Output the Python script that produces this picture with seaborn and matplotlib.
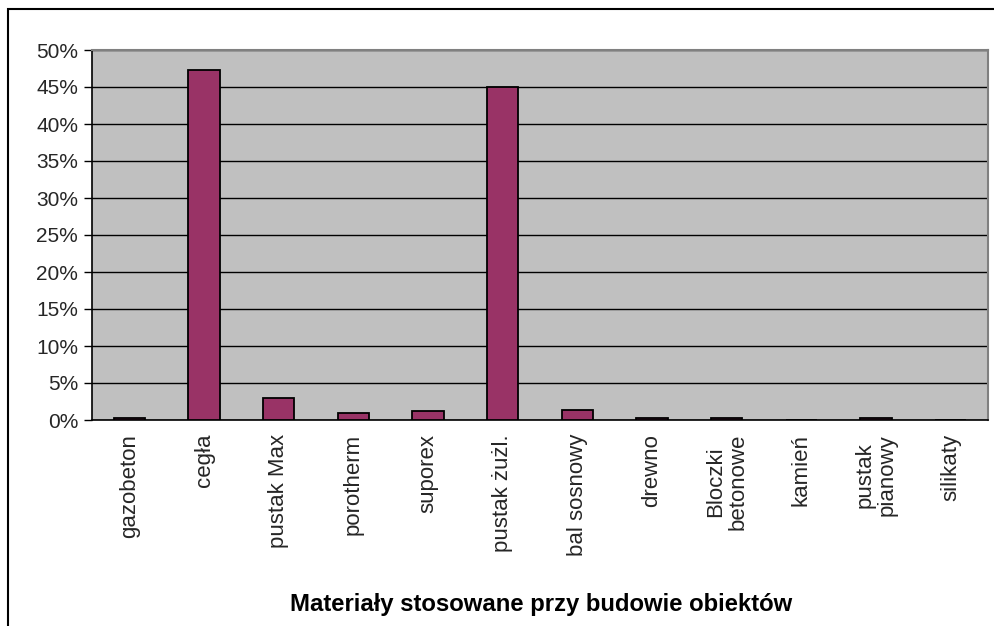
import numpy as np
import pandas as pd
import seaborn as sns
import matplotlib.pyplot as plt
from matplotlib.patches import Rectangle
from matplotlib.ticker import PercentFormatter, FixedLocator

## Data
materials = ['gazobeton', 'cegła', 'pustak Max', 'porotherm', 'suporex', 'pustak żużl.',
             'bal sosnowy', 'drewno', 'Bloczki\nbetonowe', 'kamień', 'pustak\npianowy', 'silikaty']
shares = [0.3, 47.3, 3.0, 0.9, 1.2, 45.0, 1.4, 0.3, 0.3, 0.0, 0.3, 0.0]
y_ticks = [0, 5, 10, 15, 20, 25, 30, 35, 40, 45, 50]
title = 'Materiały stosowane przy budowie obiektów'

df = pd.DataFrame({'material': materials, 'share': shares})

## Plotting
sns.set_style('white')
plt.rcParams['font.family'] = ['Liberation Sans', 'DejaVu Sans']

fig = plt.figure(figsize=(9.94, 6.26), dpi=100)
ax = fig.add_axes([92 / 994, 1 - 420 / 626, (988 - 92) / 994, (420 - 50) / 626])

sns.barplot(x='material', y='share', data=df, ax=ax, color='#993366',
            saturation=1, width=0.42, edgecolor='black', linewidth=1.3, zorder=3)

ax.set_facecolor('#C0C0C0')
ax.set_ylim(0, 50)
ax.set_xlim(-0.5, len(materials) - 0.5)
ax.yaxis.set_major_locator(FixedLocator(y_ticks))
ax.yaxis.set_major_formatter(PercentFormatter(decimals=0))
ax.grid(axis='y', color='black', linewidth=1.0, zorder=1)
ax.set_axisbelow(True)

# category boundaries carry the tick marks
ax.set_xticks(np.arange(len(materials)))
ax.set_xticklabels(materials, rotation=90, fontsize=16, linespacing=1.05)
ax.set_xticks(np.arange(-0.5, len(materials)), minor=True)
ax.tick_params(axis='x', which='major', length=0, pad=10)
ax.tick_params(axis='x', which='minor', length=6, width=1, color='black', direction='out')
ax.tick_params(axis='y', length=6, width=1, color='black', direction='out', labelsize=15, pad=4)
ax.tick_params(bottom=True, left=True)

for side in ['left', 'bottom']:
    ax.spines[side].set_color('black')
    ax.spines[side].set_linewidth(1.2)
for side in ['top', 'right']:
    ax.spines[side].set_color('#808080')
    ax.spines[side].set_linewidth(1.5)

ax.set_xlabel('')
ax.set_ylabel('')

fig.text(541 / 994, 1 - 605 / 626, title, ha='center', va='center', color='black',
         fontsize=17.2, fontweight='bold', family=['Liberation Sans Narrow', 'Liberation Sans'])

# outer chart frame
fig.patches.append(Rectangle((8 / 994, -0.1), 1.1, 1 - 9 / 626 + 0.1, transform=fig.transFigure,
                             fill=False, edgecolor='black', linewidth=1.5))

plt.savefig('out.png', dpi=100)
plt.close()
